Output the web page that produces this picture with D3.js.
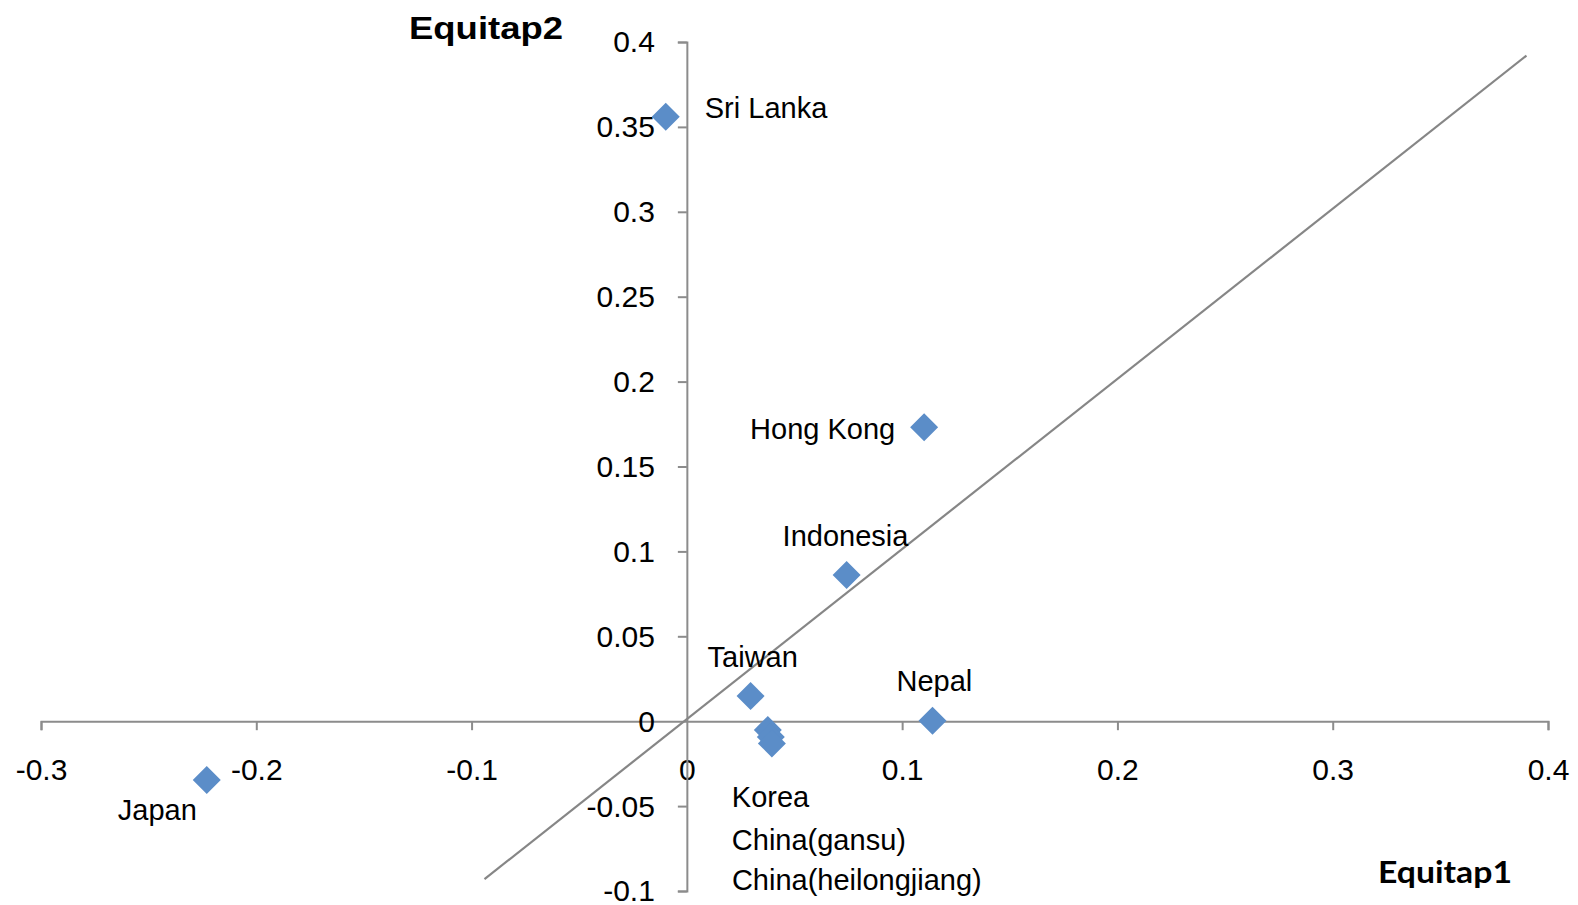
<!DOCTYPE html>
<html>
<head>
<meta charset="utf-8">
<script src="https://cdn.jsdelivr.net/npm/d3@7"></script>
<style>
  html, body { margin: 0; padding: 0; background: #fff; }
  svg { display: block; }
</style>
</head>
<body>
<svg id="chart" width="1578" height="905"></svg>
<script>
// ---- data ----
const countries = ["Japan", "Sri Lanka", "Hong Kong", "Indonesia", "Taiwan", "Nepal", "Korea", "China(gansu)", "China(heilongjiang)"];
const equitap1 = [-0.223, -0.0098, 0.1102, 0.0742, 0.0296, 0.1141, 0.0376, 0.0390, 0.0395];
const equitap2 = [-0.0346, 0.356, 0.1731, 0.0861, 0.0148, 0.0002, -0.0052, -0.0093, -0.0131];
const xTicks = [-0.3, -0.2, -0.1, 0, 0.1, 0.2, 0.3, 0.4];
const yTicks = [-0.1, -0.05, 0, 0.05, 0.1, 0.15, 0.2, 0.25, 0.3, 0.35, 0.4];
const refLineX = [-0.094, 0.39];
const refLineY = [-0.093, 0.392];
const xTitle = "Equitap1";
const yTitle = "Equitap2";

// ---- layout (label offsets from each point, px) ----
const labelOffsets = [
  [-89, 40], [39, 1], [-174, 12], [-64, -29], [-43, -29], [-36, -30], [-36, 77], [-39, 113], [-40, 147]
];

const svg = d3.select("#chart");
const x = d3.scaleLinear().domain([-0.3, 0.4]).range([41, 1548]);
const y = d3.scaleLinear().domain([-0.1, 0.4]).range([891, 42]);
const axisColor = "#8c8c8c";
const font = "'Liberation Sans', Arial, sans-serif";
const fmt = d => String(+d.toFixed(2));

// x axis at y=0
const gx = svg.append("g")
  .attr("transform", `translate(0,${y(0)})`)
  .call(d3.axisBottom(x).tickValues(xTicks).tickSize(9).tickSizeOuter(9).tickPadding(29).tickFormat(fmt));
// y axis at x=0
const gy = svg.append("g")
  .attr("transform", `translate(${x(0)},0)`)
  .call(d3.axisLeft(y).tickValues(yTicks).tickSize(9).tickSizeOuter(9).tickPadding(23).tickFormat(fmt));

[gx, gy].forEach(g => {
  g.select(".domain").attr("stroke", axisColor).attr("stroke-width", 2);
  g.selectAll(".tick line").attr("stroke", axisColor).attr("stroke-width", 2);
  g.selectAll(".tick text").attr("fill", "#000").style("font-family", font).style("font-size", "30px");
});
gy.selectAll(".tick text").attr("dy", "0.33em");
gx.selectAll(".tick").filter(d => d === 0).select("line").remove();
gy.selectAll(".tick").filter(d => d === 0).select("line").remove();

// reference diagonal line
svg.append("line")
  .attr("x1", x(refLineX[0])).attr("y1", y(refLineY[0]))
  .attr("x2", x(refLineX[1])).attr("y2", y(refLineY[1]))
  .attr("stroke", "#868686").attr("stroke-width", 2.2);

// points
const pts = countries.map((c, i) => ({ c, x: equitap1[i], y: equitap2[i], off: labelOffsets[i] }));
const r = 14;
const diamondPath = `M0,${-r}L${r},0L0,${r}L${-r},0Z`;
svg.append("g").selectAll("path").data(pts).join("path")
  .attr("d", diamondPath)
  .attr("transform", d => `translate(${x(d.x)},${y(d.y)})`)
  .attr("fill", "#5b8dc8");

// labels
svg.append("g").selectAll("text").data(pts).join("text")
  .attr("x", d => x(d.x) + d.off[0])
  .attr("y", d => y(d.y) + d.off[1])
  .attr("fill", "#000")
  .style("font-family", font)
  .style("font-size", "29px")
  .text(d => d.c);

// axis titles
svg.append("text")
  .attr("x", 409).attr("y", 39)
  .attr("textLength", 154).attr("lengthAdjust", "spacingAndGlyphs")
  .style("font-family", font).style("font-weight", "bold").style("font-size", "32px")
  .text(yTitle);
svg.append("text")
  .attr("x", 1378).attr("y", 883)
  .attr("textLength", 134).attr("lengthAdjust", "spacingAndGlyphs")
  .style("font-family", "Lato, 'Open Sans', sans-serif").style("font-weight", "bold").style("font-size", "30px")
  .text(xTitle);
</script>
</body>
</html>
